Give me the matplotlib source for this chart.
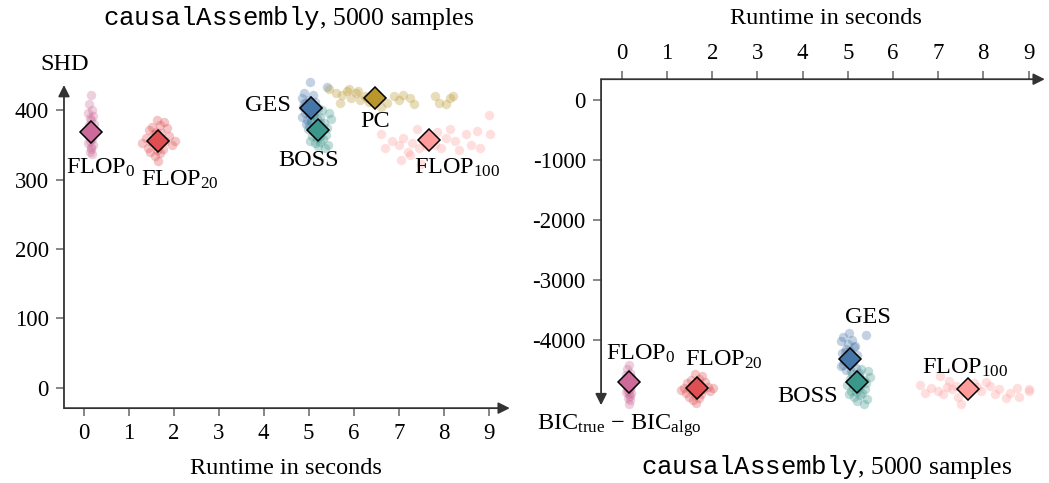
import numpy as np
import matplotlib
matplotlib.use("Agg")
from matplotlib import pyplot as plt

plt.rcParams["font.family"] = "Liberation Serif"
plt.rcParams["mathtext.fontset"] = "custom"
plt.rcParams["mathtext.rm"] = "Liberation Serif"
plt.rcParams["mathtext.it"] = "Liberation Serif:italic"
plt.rcParams["mathtext.tt"] = "Liberation Mono"
plt.rcParams["axes.unicode_minus"] = False

# runs per algorithm: runtime (s), SHD, BIC_true - BIC_algo
fl0_t = [0.15, 0.12, 0.18, 0.10, 0.20, 0.14, 0.16, 0.22, 0.11, 0.17, 0.13, 0.19, 0.15,
         0.21, 0.12, 0.16, 0.18, 0.14, 0.10, 0.20, 0.15, 0.17, 0.13, 0.19, 0.16]
fl0_shd = [422, 409, 400, 396, 392, 388, 385, 380, 378, 375, 372, 370, 368,
           365, 362, 360, 358, 356, 353, 350, 347, 344, 340, 336, 362]
fl0_bic = [-4420, -4480, -4540, -4580, -4610, -4640, -4660, -4680, -4700, -4710, -4720, -4740, -4750,
           -4770, -4790, -4800, -4820, -4840, -4860, -4880, -4900, -4930, -4960, -4990, -5070]

fl20_t = [1.62, 1.78, 1.70, 1.52, 1.85, 1.45, 1.60, 1.72, 1.55, 1.90, 1.38, 1.66, 1.80,
          1.50, 1.58, 1.95, 1.68, 1.42, 1.75, 1.62, 1.48, 1.70, 1.58, 2.02, 1.65, 1.30]
fl20_shd = [385, 383, 378, 376, 374, 371, 369, 367, 365, 362, 360, 358, 356,
            354, 352, 350, 348, 346, 344, 342, 340, 338, 334, 355, 326, 352]
fl20_bic = [-4560, -4600, -4640, -4660, -4690, -4710, -4730, -4750, -4760, -4780, -4790, -4800, -4810,
            -4820, -4840, -4850, -4870, -4880, -4900, -4920, -4940, -4960, -4990, -4800, -5040, -4830]

ges_t = [5.02, 5.40, 4.90, 5.10, 4.85, 5.00, 5.15, 4.95, 5.05, 4.88, 5.20, 4.98, 5.08,
         4.92, 5.12, 5.03, 4.86, 5.18, 4.96, 5.06, 5.25, 4.94, 5.01, 5.14, 4.90]
ges_shd = [440, 433, 425, 422, 418, 415, 412, 410, 408, 405, 403, 400, 398,
           396, 394, 392, 390, 388, 386, 384, 382, 380, 378, 376, 410]
ges_bic = [-3880, -3920, -3950, -3990, -4020, -4060, -4100, -4140, -4180, -4210, -4250, -4280, -4310,
           -4340, -4370, -4400, -4430, -4460, -4490, -4520, -4550, -4200, -4300, -4120, -4420]

boss_t = [5.30, 5.45, 5.10, 5.25, 5.50, 5.05, 5.35, 5.15, 5.20, 5.40, 4.98, 5.28, 5.12,
          5.22, 5.38, 5.08, 5.18, 5.32, 5.02, 5.26, 5.14, 5.42, 5.20, 5.36, 5.24]
boss_shd = [400, 396, 392, 390, 387, 384, 381, 378, 376, 374, 372, 370, 368,
            366, 364, 362, 360, 358, 356, 354, 352, 350, 348, 346, 362]
boss_bic = [-4480, -4520, -4560, -4590, -4620, -4640, -4660, -4680, -4700, -4720, -4740, -4760, -4780,
            -4800, -4820, -4840, -4860, -4880, -4900, -4920, -4950, -4980, -5010, -5070, -4700]

pc_t = [5.45, 5.60, 5.75, 5.85, 5.95, 6.05, 6.15, 6.25, 6.35, 5.70, 5.90, 6.10, 6.30,
        6.60, 6.75, 6.90, 7.00, 7.10, 7.25, 7.35, 7.80, 7.90, 8.05, 8.15, 8.20, 6.45]
pc_shd = [430, 425, 422, 428, 418, 425, 415, 420, 412, 410, 430, 428, 418,
          405, 410, 420, 415, 422, 418, 408, 420, 410, 408, 418, 420, 415]

fl100_t = [6.60, 6.70, 6.85, 7.00, 7.10, 7.20, 7.30, 7.40, 7.45, 7.55, 7.60, 7.70, 7.80, 7.85,
           7.95, 8.05, 8.15, 8.25, 8.35, 8.50, 8.60, 8.75, 9.00, 9.02, 7.05, 7.50, 8.80, 7.25]
fl100_shd = [365, 345, 355, 350, 360, 340, 352, 372, 345, 355, 348, 362, 350, 368,
             345, 360, 372, 355, 342, 365, 350, 370, 393, 366, 328, 322, 345, 335]
fl100_bic = [-4750, -4880, -4800, -4850, -4900, -4780, -4820, -4760, -4950, -4820, -4860, -4800, -4720, -4780,
             -4840, -4700, -4760, -4900, -4820, -4960, -4880, -4800, -4820, -4850, -4600, -5070, -4950, -4680]

# summary point per algorithm (runtime, SHD, BIC)
summary = {
    "FLOP0": (0.15, 368, -4700),
    "FLOP20": (1.66, 355, -4800),
    "GES": (5.04, 403, -4317),
    "BOSS": (5.21, 371, -4700),
    "PC": (6.47, 417, None),
    "FLOP100": (7.67, 357, -4817),
}

colors = {"FLOP0": "#cc6b99", "FLOP20": "#df4f51", "GES": "#4675a8",
          "BOSS": "#3b968c", "PC": "#b8962c", "FLOP100": "#ff9b9b"}

runs = {
    "FLOP0": (fl0_t, fl0_shd, fl0_bic),
    "FLOP20": (fl20_t, fl20_shd, fl20_bic),
    "GES": (ges_t, ges_shd, ges_bic),
    "BOSS": (boss_t, boss_shd, boss_bic),
    "PC": (pc_t, pc_shd, None),
    "FLOP100": (fl100_t, fl100_shd, fl100_bic),
}

names = {"FLOP0": r"FLOP$_{0}$", "FLOP20": r"FLOP$_{20}$", "FLOP100": r"FLOP$_{100}$",
         "GES": "GES", "BOSS": "BOSS", "PC": "PC"}

axis_col = "#333333"
fs_tick = 16.5
fs_lab = 17.5
fs_ann = 17.5
fs_title = 18.5

fig = plt.figure(figsize=(10.49, 4.83), dpi=100)
ax1 = fig.add_axes([0.061, 0.155, 0.425, 0.669])
ax2 = fig.add_axes([0.573, 0.161, 0.423, 0.675])


def draw(ax, col):
    for k, (t, shd, bic) in runs.items():
        vals = shd if col == 1 else bic
        if vals is None:
            continue
        ax.scatter(t, vals, s=46, color=colors[k], alpha=0.32, linewidths=0, zorder=2, clip_on=False)
    for k, s in summary.items():
        v = s[col]
        if v is None:
            continue
        ax.plot(s[0], v, marker="D", ms=11.5, color=colors[k], mec="black", mew=1.1, zorder=4)


draw(ax1, 1)
draw(ax2, 2)

arrow = dict(arrowstyle="-|>", color=axis_col, lw=1.3, mutation_scale=17, shrinkA=0, shrinkB=0)

# left: SHD vs runtime
ax1.set_xlim(-0.44, 9.47)
ax1.set_ylim(-29, 436)
for s in ax1.spines.values():
    s.set_visible(False)
ax1.annotate("", xy=(1, 0), xytext=(0, 0), xycoords="axes fraction", arrowprops=arrow)
ax1.annotate("", xy=(0, 1), xytext=(0, 0), xycoords="axes fraction", arrowprops=arrow)
ax1.set_xticks(range(10))
ax1.set_yticks([0, 100, 200, 300, 400])
ax1.tick_params(labelsize=fs_tick, color="#666666", length=6, width=1.1, pad=5)

lab1 = {"FLOP0": (0.38, 317, "center"), "FLOP20": (2.13, 299, "center"),
        "GES": (4.6, 406, "right"), "BOSS": (5.0, 328, "center"),
        "PC": (6.47, 384, "center"), "FLOP100": (8.29, 317, "center")}
for k, (x, y, ha) in lab1.items():
    ax1.text(x, y, names[k], fontsize=fs_ann, ha=ha, va="center")

# right: BIC difference vs runtime
ax2.set_xlim(-0.46, 9.36)
ax2.set_ylim(-5083, 350)
for s in ax2.spines.values():
    s.set_visible(False)
ax2.annotate("", xy=(1, 1), xytext=(0, 1), xycoords="axes fraction", arrowprops=arrow)
ax2.annotate("", xy=(0, 0), xytext=(0, 1), xycoords="axes fraction", arrowprops=arrow)
ax2.xaxis.tick_top()
ax2.set_xticks(range(10))
ax2.set_yticks([0, -1000, -2000, -3000, -4000])
ax2.set_yticklabels(["0", "-1000", "-2000", "-3000", "-4000"])
ax2.tick_params(labelsize=fs_tick, color="#666666", length=6, width=1.1, pad=5)

lab2 = {"FLOP0": (0.42, -4233, "center"), "FLOP20": (2.26, -4333, "center"),
        "GES": (5.44, -3617, "center"), "BOSS": (4.78, -4933, "right"),
        "FLOP100": (7.6, -4467, "center")}
for k, (x, y, ha) in lab2.items():
    ax2.text(x, y, names[k], fontsize=fs_ann, ha=ha, va="center")

# axis names at the arrow tips, runtime labels and panel titles
W, H = 1049, 483
fig.text(65 / W, 1 - 65 / H, "SHD", fontsize=fs_lab, ha="center", va="center")
fig.text(619 / W, 1 - 426 / H, r"BIC$_{\mathrm{true}}$ $-$ BIC$_{\mathrm{algo}}$",
         fontsize=fs_lab, ha="center", va="center")
fig.text(286 / W, 1 - 468 / H, "Runtime in seconds", fontsize=fs_lab, ha="center", va="center")
fig.text(826 / W, 1 - 18 / H, "Runtime in seconds", fontsize=fs_lab, ha="center", va="center")
title = r"$\mathtt{causalAssembly}$, 5000 samples"
fig.text(289 / W, 1 - 18 / H, title, fontsize=fs_title, ha="center", va="center")
fig.text(827 / W, 1 - 467 / H, title, fontsize=fs_title, ha="center", va="center")

fig.savefig("out.png", dpi=100)
